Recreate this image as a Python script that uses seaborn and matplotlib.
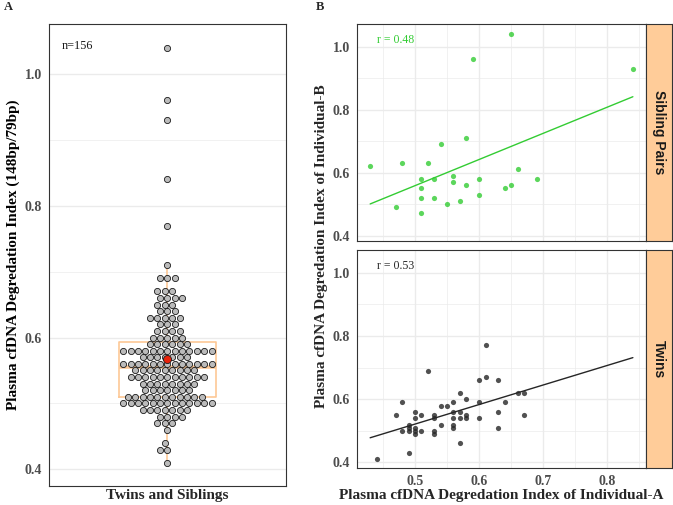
import numpy as np
import pandas as pd
import matplotlib
matplotlib.use("Agg")
import matplotlib.pyplot as plt
from matplotlib.ticker import FixedLocator
import seaborn as sns

# ---- panel A: degradation index of all individuals (value, how many dots)
a_values = [0.41, 0.43, 0.44, 0.46, 0.47, 0.48, 0.49, 0.50, 0.51, 0.52, 0.53,
            0.54, 0.55, 0.56, 0.57, 0.58, 0.59, 0.60, 0.61, 0.62, 0.63, 0.64,
            0.65, 0.66, 0.67, 0.69, 0.71, 0.77, 0.84, 0.93, 0.96, 1.04]
a_counts = [1, 2, 1, 1, 3, 4, 7, 13, 11, 7, 8,
            11, 9, 13, 7, 13, 6, 5, 4, 3, 5, 3,
            3, 4, 3, 3, 1, 1, 1, 1, 1, 1]
a_group = "Twins and Siblings"
a_note = "n=156"

# ---- panel B: pairs (Individual-A, Individual-B)
sib_a = [0.43, 0.47, 0.48, 0.51, 0.51, 0.51, 0.51, 0.52, 0.53, 0.53, 0.54, 0.55, 0.56,
         0.56, 0.57, 0.58, 0.58, 0.59, 0.60, 0.60, 0.64, 0.65, 0.65, 0.66, 0.69, 0.84]
sib_b = [0.62, 0.49, 0.63, 0.58, 0.55, 0.52, 0.47, 0.63, 0.58, 0.52, 0.69, 0.50, 0.59,
         0.57, 0.51, 0.71, 0.56, 0.96, 0.58, 0.53, 0.55, 1.04, 0.56, 0.61, 0.58, 0.93]
twin_a = [0.44, 0.47, 0.48, 0.48, 0.49, 0.49, 0.49, 0.49, 0.50, 0.50, 0.50, 0.50, 0.50,
          0.51, 0.51, 0.52, 0.53, 0.53, 0.53, 0.53, 0.54, 0.54, 0.55, 0.56, 0.56, 0.56,
          0.56, 0.56, 0.57, 0.57, 0.57, 0.57, 0.58, 0.58, 0.58, 0.60, 0.60, 0.60, 0.61,
          0.61, 0.63, 0.63, 0.63, 0.64, 0.66, 0.67, 0.67]
twin_b = [0.41, 0.55, 0.59, 0.50, 0.52, 0.51, 0.50, 0.43, 0.56, 0.54, 0.51, 0.50, 0.49,
          0.55, 0.50, 0.69, 0.55, 0.54, 0.50, 0.49, 0.58, 0.52, 0.58, 0.59, 0.56, 0.54,
          0.52, 0.51, 0.62, 0.56, 0.54, 0.46, 0.60, 0.55, 0.54, 0.66, 0.59, 0.54, 0.77,
          0.67, 0.66, 0.56, 0.51, 0.59, 0.62, 0.62, 0.55]
facet_names = ["Sibling Pairs", "Twins"]
facet_r = ["r = 0.48", "r = 0.53"]
facet_colors = ["#33CC33", "#262626"]
x_ticks = [0.5, 0.6, 0.7, 0.8]
y_ticks = [0.4, 0.6, 0.8, 1.0]

sns.set_theme(style="white")
plt.rcParams["font.family"] = ["Liberation Serif", "DejaVu Serif"]

grid_col = "#EBEBEB"
frame_col = "#333333"
tick_col = "#4D4D4D"
strip_col = "#FFCC99"
box_col = "#FDC896"


def style_axis(ax):
    for s in ax.spines.values():
        s.set_color(frame_col)
        s.set_linewidth(0.8)
        s.set_visible(True)
    ax.tick_params(axis="both", which="major", length=3, width=0.6, color=frame_col,
                   labelsize=10, labelcolor=tick_col, pad=2)
    ax.tick_params(axis="both", which="minor", length=0)
    for lab in ax.get_xticklabels() + ax.get_yticklabels():
        lab.set_fontweight("bold")
    ax.set_axisbelow(True)


fig = plt.figure(figsize=(6.73, 5.05), dpi=100)

# ---------------- panel A
df_a = pd.DataFrame({"group": a_group, "index": np.repeat(a_values, a_counts)})
axA = fig.add_axes([0.0724, 0.0376, 0.3526, 0.9143])
sns.boxplot(data=df_a, x="group", y="index", width=0.49, fill=False, color=box_col,
            linewidth=1.2, showfliers=False, showcaps=False,
            medianprops=dict(linewidth=2.6, color=box_col), ax=axA)
sns.swarmplot(data=df_a, x="group", y="index", color="#BBBBBB", edgecolor="#1A1A1A",
              linewidth=0.6, size=4.45, zorder=3, ax=axA)
sns.pointplot(data=df_a, x="group", y="index", estimator="mean", errorbar=None,
              color="#E8220A", markersize=5.8, markeredgecolor="#1A1A1A",
              markeredgewidth=0.6, linestyle="none", zorder=4, ax=axA)
axA.set_xlim(-0.6, 0.6)
axA.set_ylim(0.3746, 1.0754)
axA.yaxis.set_major_locator(FixedLocator(y_ticks))
axA.yaxis.set_minor_locator(FixedLocator([0.5, 0.7, 0.9]))
axA.set_yticklabels([f"{v:.1f}" for v in y_ticks])
axA.grid(axis="y", which="major", color=grid_col, linewidth=1.0)
axA.grid(axis="y", which="minor", color=grid_col, linewidth=0.5)
axA.set_xticklabels([])
axA.set_xlabel("")
axA.set_ylabel("Plasma cfDNA Degredation Index (148bp/79bp)", fontsize=11,
               fontweight="bold", color="black")
axA.yaxis.set_label_coords(-0.123, 0.5)
style_axis(axA)
axA.tick_params(axis="x", length=0)
axA.text(-0.534, 1.0425, a_note, fontsize=8.8, ha="left", va="center", color="#1A1A1A")

# ---------------- panel B
x_all = sib_a + twin_a
y_all = sib_b + twin_b
pairs = [(sib_a, sib_b), (twin_a, twin_b)]
rects = [[0.5305, 0.5222, 0.4294, 0.4303], [0.5305, 0.0727, 0.4294, 0.4323]]
for i, ((xa, yb), rect) in enumerate(zip(pairs, rects)):
    ax = fig.add_axes(rect)
    # regression line drawn over the full x range of both facets
    ax.set_xlim(min(x_all), max(x_all))
    sns.regplot(x=xa, y=yb, ci=None, truncate=False, color=facet_colors[i],
                scatter_kws=dict(s=14, linewidths=0), line_kws=dict(linewidth=1.0), ax=ax)
    xr = max(x_all) - min(x_all)
    yr = max(y_all) - min(y_all)
    ax.set_xlim(min(x_all) - 0.05 * xr, max(x_all) + 0.05 * xr)
    ax.set_ylim(min(y_all) - 0.045 * yr, max(y_all) + 0.05 * yr)
    ax.xaxis.set_major_locator(FixedLocator(x_ticks))
    ax.xaxis.set_minor_locator(FixedLocator([0.45, 0.55, 0.65, 0.75, 0.85]))
    ax.yaxis.set_major_locator(FixedLocator(y_ticks))
    ax.yaxis.set_minor_locator(FixedLocator([0.5, 0.7, 0.9]))
    ax.set_yticklabels([f"{v:.1f}" for v in y_ticks])
    if i == 0:
        ax.set_xticklabels([])
    else:
        ax.set_xticklabels([f"{v:.1f}" for v in x_ticks])
    ax.grid(which="major", color=grid_col, linewidth=1.0)
    ax.grid(which="minor", color=grid_col, linewidth=0.5)
    ax.set_xlabel("")
    ax.set_ylabel("")
    style_axis(ax)
    if i == 0:
        ax.tick_params(axis="x", length=0)
    ax.text(0.47, 1.02, facet_r[i], fontsize=8.5, ha="center", va="center",
            color=facet_colors[i])

    # facet strip on the right
    sx = fig.add_axes([rect[0] + rect[2], rect[1], 1 - rect[0] - rect[2] - 0.001, rect[3]])
    sx.set_facecolor(strip_col)
    sx.set_xticks([])
    sx.set_yticks([])
    for s in sx.spines.values():
        s.set_color(frame_col)
        s.set_linewidth(0.8)
    sx.text(0.5, 0.5, facet_names[i], rotation=-90, ha="center", va="center",
            fontsize=10, fontweight="bold", color="#1A1A1A", family="Liberation Sans",
            transform=sx.transAxes)

fig.text(167.4 / 673, 1 - 496 / 505, a_group, ha="center", va="center",
         fontsize=11, fontweight="bold")
fig.text(322 / 673, 1 - 246 / 505, "Plasma cfDNA Degredation Index of Individual-B",
         rotation=90, ha="center", va="center", fontsize=11, fontweight="bold")
fig.text(501.5 / 673, 1 - 495 / 505, "Plasma cfDNA Degredation Index of Individual-A",
         ha="center", va="center", fontsize=11, fontweight="bold")
fig.text(4 / 673, 1 - 7 / 505, "A", ha="left", va="center", fontsize=9, fontweight="bold")
fig.text(316 / 673, 1 - 7 / 505, "B", ha="left", va="center", fontsize=9, fontweight="bold")

fig.savefig("out.png", dpi=100)
